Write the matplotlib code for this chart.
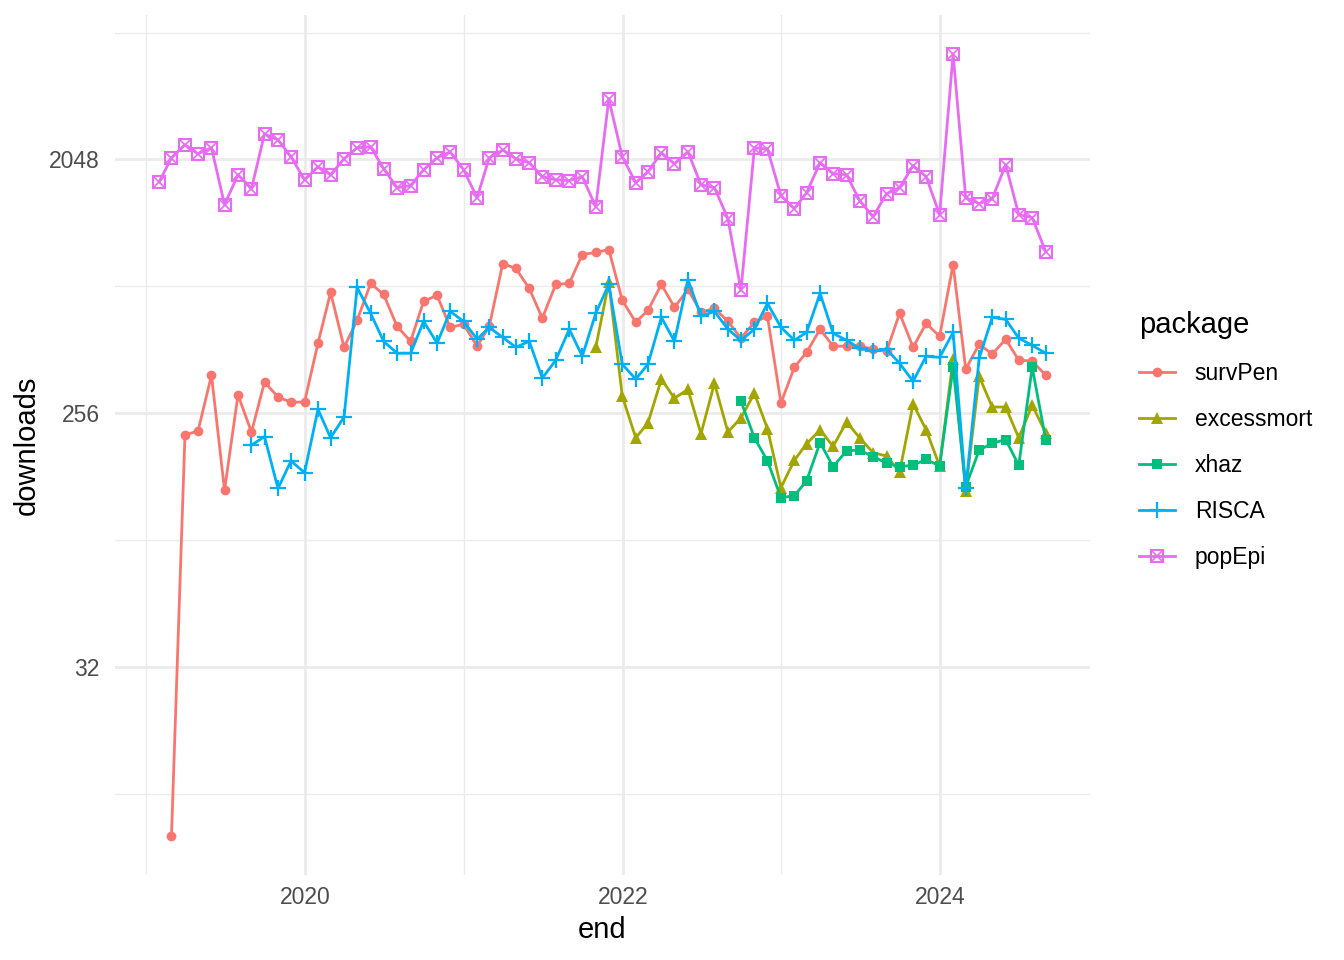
import matplotlib
matplotlib.use("Agg")
import matplotlib.pyplot as plt
import matplotlib.dates as mdates
from matplotlib.lines import Line2D
from matplotlib.legend_handler import HandlerTuple
from matplotlib.ticker import FixedLocator, NullFormatter
import pandas as pd

# --- Data: monthly downloads, month-end dates ---
months = pd.date_range("2019-01-31", "2024-08-31", freq="ME")

popepi_start = 0
popepi = [1706, 2075, 2308, 2144, 2252, 1413, 1805, 1611, 2523, 2404,
          2092, 1733, 1928, 1805, 2058, 2252, 2271, 1897, 1624, 1651,
          1881, 2075, 2179, 1881, 1496, 2075, 2214, 2058, 1993, 1777,
          1733, 1720, 1777, 1390, 3362, 2092, 1692, 1851, 2161, 1975,
          2179, 1664, 1624, 1261, 700, 2252, 2230, 1521, 1368, 1559,
          1993, 1821, 1805, 1460, 1281, 1546, 1624, 1944, 1777, 1303,
          4853, 1496, 1425, 1484, 1959, 1303, 1271, 962]

survpen_start = 1
survpen = [8, 214, 221, 349, 136, 297, 219, 330, 292, 280,
           280, 454, 688, 439, 547, 741, 677, 521, 461, 640,
           672, 517, 530, 443, 521, 872, 838, 711, 557, 735,
           741, 939, 955, 978, 645, 539, 594, 735, 609, 705,
           585, 604, 543, 473, 539, 566, 278, 373, 421, 509,
           443, 443, 443, 432, 425, 580, 439, 534, 480, 865,
           367, 450, 415, 469, 395, 392, 349]

risca_start = 7
risca = [197, 211, 138, 173, 157, 264, 209, 248, 717, 580,
         461, 418, 418, 543, 454, 589, 543, 469, 517, 476,
         439, 461, 341, 395, 509, 408, 580, 735, 382, 338,
         382, 561, 461, 765, 566, 589, 509, 465, 509, 629,
         517, 465, 496, 683, 492, 465, 435, 425, 432, 385,
         332, 408, 404, 496, 138, 401, 561, 552, 473, 446, 418]

excessmort_start = 33
excessmort = [439, 747, 294, 209, 236, 338, 289, 311, 216, 327,
              219, 246, 301, 225, 139, 174, 199, 223, 195, 238,
              209, 185, 180, 158, 276, 223, 166, 398, 135, 346,
              269, 269, 209, 273, 218]

xhaz_start = 44
xhaz = [282, 209, 173, 128, 130, 147, 201, 165, 188, 189,
        179, 170, 165, 167, 175, 166, 373, 140, 189, 200,
        206, 167, 373, 206]

packages = ["survPen", "excessmort", "xhaz", "RISCA", "popEpi"]
colors = ["#F8766D", "#A3A500", "#00BF7D", "#00B0F6", "#E76BF3"]

series = {
    "survPen": (survpen_start, survpen),
    "excessmort": (excessmort_start, excessmort),
    "xhaz": (xhaz_start, xhaz),
    "RISCA": (risca_start, risca),
    "popEpi": (popepi_start, popepi),
}

plt.rcParams["font.family"] = ["Liberation Sans", "DejaVu Sans"]

fig = plt.figure(figsize=(13.44, 9.6), dpi=100)
ax = fig.add_axes([115 / 1344, 1 - 875 / 960, (1090 - 115) / 1344, (875 - 15) / 960])

lw = 2.0
handles = []
for pkg, col in zip(packages, colors):
    start, vals = series[pkg]
    x = months[start:start + len(vals)]
    if pkg == "survPen":
        style = dict(marker="o", ms=7, mew=0)
    elif pkg == "excessmort":
        style = dict(marker="^", ms=8.5, mew=0)
    elif pkg == "xhaz":
        style = dict(marker="s", ms=6.5, mew=0)
    elif pkg == "RISCA":
        style = dict(marker="+", ms=11, mew=1.6)
    else:
        style = dict(marker="s", ms=8, mfc="none", mew=1.5)
    ax.plot(x, vals, color=col, lw=lw, **style)
    h = Line2D([], [], color=col, lw=lw, **style)
    if pkg == "popEpi":
        # boxed cross: overlay an x on the open square
        ax.plot(x, vals, color=col, ls="none", marker="x", ms=8, mew=1.2)
        h = (h, Line2D([], [], color=col, ls="none", marker="x", ms=8, mew=1.2))
    handles.append(h)

# --- Axes: log2 y scale, ggplot-like expansion ---
ax.set_yscale("log", base=2)
ax.set_ylim(2 ** 2.538, 2 ** 12.707)
ax.yaxis.set_major_locator(FixedLocator([32, 256, 2048]))
ax.set_yticklabels(["32", "256", "2048"])
ax.yaxis.set_minor_locator(FixedLocator([2 ** 3.5, 2 ** 6.5, 2 ** 9.5, 2 ** 12.5]))
ax.yaxis.set_minor_formatter(NullFormatter())

span = months[-1] - months[0]
ax.set_xlim(months[0] - span * 0.05, months[-1] + span * 0.05)
ax.xaxis.set_major_locator(FixedLocator(mdates.date2num(pd.to_datetime(["2020-01-01", "2022-01-01", "2024-01-01"]))))
ax.xaxis.set_major_formatter(mdates.DateFormatter("%Y"))
ax.xaxis.set_minor_locator(FixedLocator(mdates.date2num(pd.to_datetime(["2019-01-01", "2021-01-01", "2023-01-01"]))))

ax.grid(True, which="major", color="#EBEBEB", lw=2.0)
ax.grid(True, which="minor", color="#EBEBEB", lw=1.0)
ax.set_axisbelow(True)
for s in ax.spines.values():
    s.set_visible(False)
ax.tick_params(which="both", length=0)
ax.tick_params(axis="both", labelsize=16.5, labelcolor="#4D4D4D")
ax.tick_params(axis="y", pad=11)
ax.tick_params(axis="x", pad=8)

ax.set_xlabel("end", fontsize=21, labelpad=5)
ax.set_ylabel("downloads", fontsize=21, labelpad=6)

leg = fig.legend(handles, packages, title="package", loc="center left",
                 bbox_to_anchor=(1118 / 1344, 1 - 440 / 960), frameon=False,
                 fontsize=16.5, title_fontsize=21, handlelength=1.6,
                 labelspacing=1.0, handletextpad=0.85,
                 handler_map={tuple: HandlerTuple(ndivide=1)})
leg._legend_box.align = "left"

fig.savefig("out.png", dpi=100)
